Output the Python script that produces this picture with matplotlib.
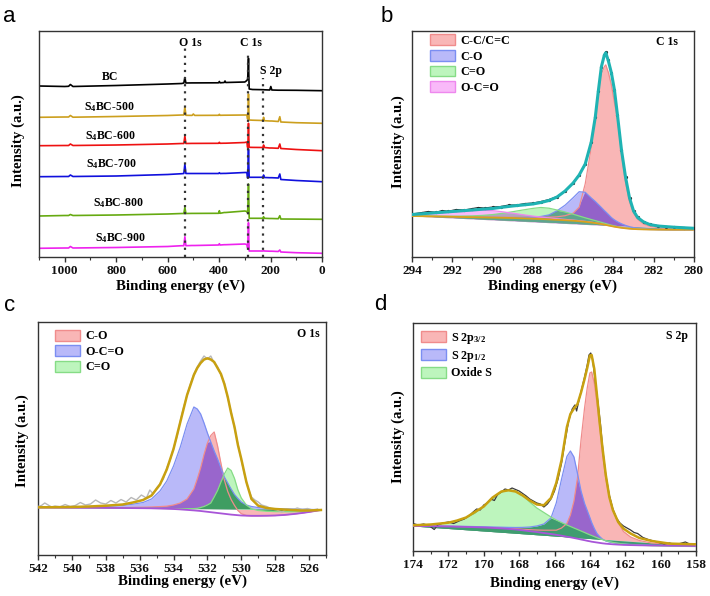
import numpy as np
import matplotlib
matplotlib.use("Agg")
import matplotlib.pyplot as plt
from matplotlib.patches import Patch
from matplotlib.ticker import MultipleLocator

# ---------------- data: panel a (survey) ----------------
survey_ev = [1100, 1000, 985, 978, 968, 800, 600, 545, 537, 533, 529, 505, 500, 495, 402, 399, 396,
             380, 377, 374, 300, 292, 289, 287, 285.8, 284.5, 283, 270, 230, 227, 224, 203, 199, 195,
             170, 164, 160, 100, 0]
bc = [171, 170.5, 170.7, 172.5, 170.5, 171.5, 173, 173.5, 174, 179.5, 174, 174.1, 174.1, 174.1, 174.2,
      175.5, 174.2, 174.5, 176, 174.5, 175, 176.5, 178, 187, 198.7, 182, 168, 167.5, 167.3, 167.3,
      167.2, 167, 170.5, 167, 166.8, 166.8, 166.8, 166.7, 166.3]
s4bc_500 = [139.7, 140, 140, 141.5, 139.8, 140.5, 141.5, 142, 142, 150.3, 141.7, 141.6, 143, 141.6, 141.7,
            142.7, 141.7, 141.8, 141.8, 141.8, 142, 142, 138, 147, 163, 147, 137, 136.8, 136.5, 139.7,
            136.3, 136, 136, 136, 135.5, 140.3, 135, 134.3, 133.7]
s4bc_600 = [111.3, 111.5, 111.5, 113, 111.5, 112, 113, 113.5, 113.5, 121, 113.5, 113.6, 113.6, 113.6, 113.7,
            114.7, 113.7, 113.8, 113.8, 113.8, 114.5, 115, 109.5, 120, 133.7, 119, 109.7, 109.6, 109.5, 112,
            109.5, 109, 109, 109, 108.7, 113, 108.5, 107.5, 106.3]
s4bc_700 = [80.3, 80.5, 80.5, 82, 80.5, 81, 82.5, 83.3, 83.5, 93, 83.5, 83.5, 83.5, 83.5, 83.5,
            84.3, 83.5, 83.6, 83.6, 83.6, 84.5, 84.5, 79, 95, 107.7, 92, 79.7, 79.7, 79.7, 82,
            79.5, 79.3, 79.3, 79.3, 79, 83, 77.5, 76.5, 75.3]
s4bc_800 = [41, 41.5, 41.5, 42.5, 41.5, 42, 43, 43.5, 43.5, 49.7, 43.5, 43.6, 43.6, 43.6, 43.7,
            46.3, 43.7, 44.5, 44.5, 44.5, 46, 45.5, 44, 60, 73, 57, 38.7, 38.7, 38.7, 40.3,
            38.7, 38.5, 38.5, 38.5, 38.3, 41.3, 38, 37.9, 37.7]
s4bc_900 = [8.7, 9, 9, 10.5, 9, 9.5, 10.5, 11.3, 11.3, 20.3, 11.3, 11.5, 11.5, 11.5, 12,
            13.3, 12, 12.3, 12.3, 12.3, 13, 12.5, 9, 22, 34.3, 17, 6, 6, 6, 6.3,
            6, 5.8, 5.8, 5.8, 5.5, 7, 5, 4.3, 3.7]
survey_names = ["BC", "S$_{4}$BC-500", "S$_{4}$BC-600", "S$_{4}$BC-700", "S$_{4}$BC-800", "S$_{4}$BC-900"]
survey_series = [bc, s4bc_500, s4bc_600, s4bc_700, s4bc_800, s4bc_900]
marker_names = ["O 1s", "C 1s", "S 2p"]
marker_ev = [533, 285.8, 227.5]
marker_top = [208.7, 205, 178.7]

# ---------------- data: panel b (C 1s) ----------------
c1s_ev = [294, 293, 292, 291, 290.5, 290, 289.5, 289, 288.5, 288, 287.6, 287.2, 286.8, 286.4, 286.0,
          285.7, 285.4, 285.1, 284.9, 284.75, 284.6, 284.45, 284.38, 284.25, 284.1, 283.95, 283.8,
          283.6, 283.4, 283.2, 283.0, 282.8, 282.5, 282.2, 281.8, 281, 280]
c1s_bg = [41, 40.6, 40.2, 39.8, 39.6, 39.4, 39.2, 39.0, 38.7, 38.3, 38.0, 37.6, 37.2, 36.8, 36.3,
          35.8, 35.2, 34.5, 34.0, 33.5, 33.0, 32.4, 32.1, 31.5, 30.9, 30.3, 29.8,
          29.2, 28.7, 28.3, 28.0, 27.8, 27.6, 27.5, 27.4, 27.3, 27.3]
c1s_env = [42.5, 44, 45.5, 47, 47.8, 48.5, 49.8, 51, 52, 53, 54.5, 56.5, 60, 66, 74,
           82, 93, 115, 140, 166, 190, 202, 204.3, 196, 184, 167, 142,
           107, 80, 59, 46, 39.5, 35, 32.5, 31, 29.8, 28.7]
c1s_cc = [0.2, 0.2, 0.3, 0.3, 0.4, 0.5, 0.6, 0.8, 1.0, 1.3, 1.7, 2.2, 3.0, 4.5, 7.5,
          14, 38, 75, 103, 128, 150, 158, 160, 153, 141, 124, 109,
          74, 46, 27, 16, 10, 5.5, 3.3, 2.0, 0.9, 0.4]
c1s_co = [0, 0, 0, 0, 0.1, 0.2, 0.3, 0.5, 0.9, 1.5, 2.5, 4.5, 9, 15, 23,
          29.5, 29.5, 24.5, 21.5, 19, 16.5, 14, 13, 11, 8.5, 6.8, 5.4,
          4, 2.9, 2, 1.4, 1, 0.5, 0.3, 0.1, 0, 0]
c1s_c_o = [0.1, 0.3, 0.6, 1.3, 2, 3, 4.5, 6.3, 8.3, 10.3, 11.5, 11.2, 9.8, 8.2, 6.5,
           5.2, 4.0, 3.0, 2.4, 2.0, 1.7, 1.4, 1.3, 1.1, 0.9, 0.8, 0.6,
           0.5, 0.4, 0.3, 0.2, 0.2, 0.1, 0, 0, 0, 0]
c1s_oco = [1.0, 2.5, 4.5, 6.3, 7.2, 7.0, 6.0, 4.8, 3.6, 2.6, 2.0, 1.5, 1.1, 0.8, 0.6,
           0.5, 0.4, 0.3, 0.2, 0.2, 0.1, 0.1, 0.1, 0.1, 0, 0, 0,
           0, 0, 0, 0, 0, 0, 0, 0, 0, 0]
c1s_raw_ev = [294, 293.5, 293.2, 292.8, 292.5, 292.2, 291.8, 291.4, 291.0, 290.7, 290.4, 290.0, 289.6,
              289.2, 288.8, 288.4, 288.0, 287.6, 287.2, 286.8, 286.4, 286.0, 285.7, 285.4, 285.1,
              284.9, 284.75, 284.6, 284.45, 284.38, 284.25, 284.1, 283.95, 283.8, 283.6, 283.4,
              283.2, 283.0, 282.8, 282.5, 282.2, 281.8, 281.4, 281.0, 280.5, 280.0]
c1s_raw = [43, 44.5, 45.5, 44.8, 46.5, 45.8, 47.5, 47, 48.5, 49.5, 49, 50, 50.5,
           52, 52, 53.5, 54, 55.5, 57.5, 60.5, 66, 74.5, 82.5, 93, 115,
           140.5, 166, 190, 202.5, 205.5, 197, 184, 167, 142, 107, 80.5,
           59, 46.5, 40, 35, 33, 31.5, 30.5, 30, 29.5, 29]
c1s_labels = ["C-C/C=C", "C-O", "C=O", "O-C=O"]

# ---------------- data: panel c (O 1s) ----------------
o1s_ev = [542, 541, 540, 539, 538, 537, 536.4, 535.8, 535.3, 534.8, 534.4, 534.0, 533.6, 533.2, 532.8,
          532.6, 532.4, 532.2, 532.0, 531.8, 531.6, 531.4, 531.2, 531.0, 530.8, 530.6, 530.4, 530.2,
          530.0, 529.7, 529.4, 529.0, 528.5, 528.0, 527.5, 527.0, 526.5, 526.0, 525.3]
o1s_bg = [47.5, 47.4, 47.3, 47.2, 47.1, 47.0, 46.9, 46.8, 46.7, 46.5, 46.3, 46.0, 45.6, 45.1, 44.6,
          44.3, 44.0, 43.6, 43.2, 42.8, 42.4, 42.0, 41.6, 41.2, 40.8, 40.4, 40.1, 39.8,
          39.5, 39.3, 39.2, 39.2, 39.3, 39.5, 40.0, 40.8, 41.8, 43.0, 45.0]
o1s_env = [47.7, 47.8, 48.0, 48.5, 49.3, 50.5, 52.5, 55, 59.5, 70.5, 85.5, 106, 133, 160, 180,
           187, 192, 195.5, 196.7, 195.5, 193, 187, 181, 171, 158, 142, 128, 110,
           96, 73, 56, 49.3, 47, 46, 45.5, 45, 44.5, 44.5, 45]
o1s_co = [47.5, 47.4, 47.3, 47.3, 47.3, 47.4, 47.6, 47.8, 48.0, 48.4, 48.8, 50, 52, 56, 66,
          76, 87, 100.5, 112, 119.5, 123, 109, 91.5, 75, 63.5, 55.5, 49.5, 44.5,
          41.3, 39.5, 39.2, 39.2, 39.3, 39.5, 40.0, 40.8, 41.8, 43.0, 45.0]
o1s_oco = [47.6, 47.7, 47.8, 48.0, 48.5, 49.5, 50.8, 52.5, 56, 64, 74, 89, 108, 131, 148,
           146, 141, 132, 122, 113, 104, 96, 87, 78, 72, 66, 60.5, 56.5,
           53, 50, 48.5, 47.5, 46.7, 46.3, 46, 46, 45.8, 45.6, 45.3]
o1s_c_o = [47.5, 47.4, 47.3, 47.2, 47.1, 47.0, 46.9, 46.8, 46.7, 46.6, 46.5, 46.4, 46.3, 46.3, 46.4,
           46.6, 47.5, 48.5, 50, 52, 58, 64.5, 73, 81, 87, 84.5, 76.5, 65,
           57, 50, 46.3, 44.5, 43.8, 43.4, 43.3, 43.3, 43.4, 44, 45]
o1s_raw_ev = [542, 541.8, 541.6, 541.4, 541.2, 541.0, 540.7, 540.4, 540.1, 539.8, 539.5, 539.2, 538.9,
              538.6, 538.3, 538.0, 537.7, 537.4, 537.1, 536.8, 536.5, 536.2, 535.9, 535.6, 535.4,
              535.2, 535.0, 534.8, 534.6, 534.4, 534.2, 534.0, 533.8, 533.6, 533.4, 533.2, 533.0,
              532.8, 532.6, 532.4, 532.2, 532.0, 531.8, 531.6, 531.4, 531.2, 531.0, 530.8, 530.6,
              530.4, 530.2, 530.0, 529.8, 529.6, 529.4, 529.2, 529.0, 528.8, 528.5, 528.2, 527.9,
              527.6, 527.3, 527.0, 526.7, 526.4, 526.1, 525.8, 525.5]
o1s_raw = [48.5, 49.5, 52, 50, 48, 49, 48.2, 50.5, 48.5, 49.5, 52.5, 50, 51,
           55, 52, 51, 54.5, 52, 55.5, 53, 57.5, 55, 60, 57, 65,
           61, 67, 71, 76, 87, 95, 107, 118, 134, 148, 160, 171,
           181, 188, 194, 199, 196, 199, 192, 188, 180, 172, 157, 143,
           127, 111, 95, 80, 67, 58, 55, 53, 50, 48.5, 46, 45,
           43, 46, 45, 47, 45.5, 46.5, 45, 46]
o1s_labels = ["C-O", "O-C=O", "C=O"]

# ---------------- data: panel d (S 2p) ----------------
s2p_ev = [174, 173, 172, 171.5, 171, 170.5, 170, 169.5, 169, 168.6, 168.2, 167.8, 167.4, 167, 166.6,
          166.2, 165.9, 165.6, 165.3, 165.1, 164.9, 164.7, 164.5, 164.3, 164.15, 164.0, 163.9, 163.75,
          163.6, 163.45, 163.3, 163.1, 162.9, 162.7, 162.4, 162.1, 161.7, 161.2, 160.5, 159.5, 158.5, 158]
s2p_bg = [25, 24.8, 24.5, 24.3, 24.1, 23.8, 23.5, 23.1, 22.6, 22.1, 21.5, 20.7, 19.8, 19, 18,
          17, 16.2, 15.3, 14.3, 13.7, 13, 12.3, 11.5, 10.8, 10.2, 9.7, 9.3, 8.9,
          8.5, 8.1, 7.7, 7.3, 7.0, 6.7, 6.4, 6.1, 5.9, 5.7, 5.5, 5.3, 5.1, 5.0]
s2p_env = [25.7, 26.5, 28.3, 30.5, 33.5, 39, 44.5, 53.5, 59.5, 60.7, 59.5, 55.5, 50.5, 46.5, 45.8,
           53, 68, 91, 124, 137, 142.5, 147, 158.5, 172, 183, 195.5, 196, 182,
           156, 129, 105, 76, 54, 41, 29, 22.4, 17.5, 13, 10, 7.4, 6.9, 6.7]
s2p_32 = [25.1, 24.9, 24.7, 24.5, 24.3, 24.0, 23.8, 23.5, 23.1, 22.7, 22.3, 21.8, 21.3, 21, 20.8,
          20.8, 20.8, 23, 27.5, 36, 50, 73, 111, 143, 163, 178, 179, 168,
          148, 126, 99, 72, 54, 41, 28.5, 19.5, 14, 10.5, 8, 6.7, 5.8, 5.5]
s2p_12 = [25.1, 25, 24.8, 24.7, 24.6, 24.4, 24.2, 24, 23.8, 23.6, 23.5, 23.6, 24, 25, 27,
          33, 48, 72, 94.5, 100, 94, 77.5, 60, 47.5, 40.5, 33.5, 28.5, 22.5,
          17.5, 14.5, 12, 10, 9, 8.3, 7.6, 7.1, 6.6, 6.2, 5.8, 5.4, 5.1, 5.0]
s2p_ox = [25.5, 26.3, 28.2, 30.2, 33.2, 37.5, 44.5, 52, 58.5, 61.4, 60, 55.5, 49, 43, 38.5,
          34, 31, 28.5, 26, 24.5, 23, 21.5, 20, 18.5, 17.3, 16.2, 15.5, 14.4,
          13.3, 12.3, 11.4, 10.3, 9.4, 8.6, 7.7, 7, 6.3, 5.8, 5.3, 4.9, 4.6, 4.5]
s2p_raw_ev = [174, 173.7, 173.4, 173.1, 172.8, 172.6, 172.3, 172.0, 171.7, 171.4, 171.1, 170.8, 170.6,
              170.4, 170.2, 170.0, 169.8, 169.6, 169.4, 169.2, 169.0, 168.8, 168.6, 168.4, 168.2,
              168.0, 167.8, 167.6, 167.4, 167.2, 167.0, 166.8, 166.6, 166.4, 166.2, 166.0, 165.8,
              165.6, 165.4, 165.2, 165.0, 164.85, 164.75, 164.6, 164.45, 164.3, 164.15, 164.05,
              163.95, 163.85, 163.7, 163.55, 163.4, 163.25, 163.1, 162.9, 162.7, 162.5, 162.3,
              162.1, 161.9, 161.7, 161.5, 161.3, 161.0, 160.7, 160.4, 160.1, 159.8, 159.5, 159.2,
              158.9, 158.6, 158.3, 158.0]
s2p_raw = [27.5, 26, 27, 25.5, 21.5, 26, 28, 29, 27.5, 30, 32, 35.5, 39,
           42, 41, 46, 48, 52, 50.5, 57, 59, 62, 61, 63, 61.5,
           60, 57.5, 55, 52, 50, 48, 47, 44, 47, 52, 60, 72,
           88, 110, 130, 142, 146, 140, 152, 163, 174, 186, 196,
           198, 192, 170, 150, 127, 98, 76, 56, 42, 33, 28,
           25, 23, 21, 18.5, 17.5, 13.5, 11.5, 10, 8.5, 7, 8, 6.5,
           7.5, 9, 6.5, 7]
s2p_labels = ["S 2p$_{3/2}$", "S 2p$_{1/2}$", "Oxide S"]

# ---------------- style ----------------
plt.rcParams.update({
    "font.family": ["Liberation Serif", "DejaVu Serif"],
    "font.weight": "bold",
    "mathtext.fontset": "custom",
    "mathtext.rm": "Liberation Serif:bold",
    "mathtext.it": "Liberation Serif:bold:italic",
    "mathtext.bf": "Liberation Serif:bold",
    "axes.linewidth": 1.0,
})

W, H = 710, 596
fig = plt.figure(figsize=(W / 100, H / 100), dpi=100)


def add_ax(l, t, r, b):
    return fig.add_axes([l / W, 1 - b / H, (r - l) / W, (b - t) / H])


def style(ax, xlim, ylim, major, minor):
    ax.set_xlim(*xlim)
    ax.set_ylim(*ylim)
    ax.xaxis.set_major_locator(MultipleLocator(major))
    ax.xaxis.set_minor_locator(MultipleLocator(minor))
    ax.tick_params(axis="x", which="major", direction="out", length=3.5, width=1,
                   labelsize=9.5, pad=2, color="#333333", labelcolor="#111111")
    ax.tick_params(axis="x", which="minor", direction="out", length=2.0, width=0.8, color="#333333")
    ax.tick_params(axis="y", which="both", left=False, labelleft=False)
    for s in ax.spines.values():
        s.set_linewidth(1.0)
        s.set_color("#333333")


RED_F, BLUE_F, GREEN_F, PINK_F = "#f9b6b6", "#b9b9f9", "#bdf5bd", "#f9b9f9"
RED_E, BLUE_E, GREEN_E, PINK_E = "#f08c8c", "#7b8ef2", "#86dc86", "#ee88ee"


def draw_components(ax, x, bg, comps, fcs, ecs, pairs):
    x = np.asarray(x, float)
    bg = np.asarray(bg, float)
    base = bg[0] + (bg[-1] - bg[0]) * (x - x[0]) / (x[-1] - x[0])
    comps = [np.asarray(c, float) for c in comps]
    for c, fc in zip(comps, fcs):
        ax.fill_between(x, base, c, color=fc, lw=0, zorder=1)
    for i, j, col in pairs:
        up = np.minimum(comps[i], comps[j])
        ax.fill_between(x, base, up, where=up >= base, interpolate=True, color=col, lw=0, zorder=2)
        lo = np.maximum(comps[i], comps[j])
        ax.fill_between(x, base, lo, where=lo <= base, interpolate=True, color=col, lw=0, zorder=2)
    for c, ec in zip(comps, ecs):
        ax.plot(x, c, color=ec, lw=0.9, zorder=3)


def patch_legend(ax, labels, fcs, ecs, anchor):
    handles = [Patch(facecolor=f, edgecolor=e, lw=1.0) for f, e in zip(fcs, ecs)]
    ax.legend(handles, labels, loc="upper left", bbox_to_anchor=anchor, frameon=False,
              fontsize=8.7, handlelength=2.1, handleheight=1.0, labelspacing=0.25,
              borderaxespad=0, borderpad=0, handletextpad=0.4)


# ---------------- panel a ----------------
axa = add_ax(39, 31, 322, 257)
style(axa, (1100, 0), (0, 226), 200, 100)
survey_colors = ["#000000", "#cc9f1e", "#ee1111", "#1010dd", "#66aa11", "#ee22ee"]
for ys, col in zip(survey_series, survey_colors):
    axa.plot(survey_ev, ys, color=col, lw=1.2)
axa.vlines(marker_ev, 0, marker_top, colors="#333333", linestyles=(0, (1, 2.2)), lw=1.6)
label_pos = [(824, 180), (828, 150), (823, 121), (821, 93), (790, 54), (783, 19)]
for name, (lx, ly) in zip(survey_names, label_pos):
    axa.text(lx, ly, name, ha="center", va="center", fontsize=8.5)
marker_label_pos = [(510, 214.5), (277, 214.5), (198, 185.7)]
for name, (lx, ly) in zip(marker_names, marker_label_pos):
    axa.text(lx, ly, name, ha="center", va="center", fontsize=8.5)

# ---------------- panel b ----------------
axb = add_ax(412, 31, 694, 257)
style(axb, (294, 280), (0, 226), 2, 1)
bgb = np.asarray(c1s_bg, float)
comps_b = [bgb + np.asarray(c1s_cc), bgb + np.asarray(c1s_co), bgb + np.asarray(c1s_c_o),
           bgb + np.asarray(c1s_oco)]
draw_components(axb, c1s_ev, c1s_bg, comps_b,
                [RED_F, BLUE_F, GREEN_F, PINK_F], [RED_E, BLUE_E, GREEN_E, PINK_E],
                [(0, 1, "#9362c9"), (3, 0, "#c79bc9"), (3, 1, "#b39bd9"), (3, 2, "#b0a8c0"),
                 (2, 0, "#6fae86"), (2, 1, "#5ea58e")])
axb.plot(c1s_raw_ev, c1s_raw, color="#222222", lw=0.8, marker="o", ms=1.3, zorder=4)
axb.plot(c1s_ev, c1s_bg, color="#d9a21b", lw=1.3, zorder=5)
axb.plot(c1s_ev, c1s_env, color="#1fb3b3", lw=2.2, zorder=6)
patch_legend(axb, c1s_labels, [RED_F, BLUE_F, GREEN_F, PINK_F], [RED_E, BLUE_E, GREEN_E, PINK_E],
             (0.064, 0.985))
axb.text(0.903, 0.951, "C 1s", transform=axb.transAxes, ha="center", va="center", fontsize=8.5)

# ---------------- panel c ----------------
axc = add_ax(38, 322, 326, 555)
style(axc, (542, 525), (0, 233), 2, 1)
draw_components(axc, o1s_ev, o1s_bg, [o1s_co, o1s_oco, o1s_c_o],
                [RED_F, BLUE_F, GREEN_F], [RED_E, BLUE_E, GREEN_E],
                [(0, 1, "#9966cc"), (2, 0, "#3f9d62"), (2, 1, "#3f9d62")])
axc.plot(o1s_raw_ev, o1s_raw, color="#b8b8b8", lw=1.0, zorder=4)
axc.plot(o1s_ev, o1s_bg, color="#a855d8", lw=1.3, zorder=5)
axc.plot(o1s_ev, o1s_env, color="#c8a010", lw=1.8, zorder=6)
patch_legend(axc, o1s_labels, [RED_F, BLUE_F, GREEN_F], [RED_E, BLUE_E, GREEN_E], (0.059, 0.967))
axc.text(0.9375, 0.95, "O 1s", transform=axc.transAxes, ha="center", va="center", fontsize=8.5)

# ---------------- panel d ----------------
axd = add_ax(413, 323, 696, 551)
style(axd, (174, 158), (0, 228), 2, 1)
draw_components(axd, s2p_ev, s2p_bg, [s2p_32, s2p_12, s2p_ox],
                [RED_F, BLUE_F, GREEN_F], [RED_E, BLUE_E, GREEN_E],
                [(0, 1, "#9966cc"), (2, 0, "#3f9d70"), (2, 1, "#3f9d70")])
axd.plot(s2p_raw_ev, s2p_raw, color="#3a3a3a", lw=0.9, zorder=4)
axd.plot(s2p_ev, s2p_bg, color="#a855d8", lw=1.3, zorder=5)
axd.plot(s2p_ev, s2p_env, color="#c8a010", lw=1.8, zorder=6)
patch_legend(axd, s2p_labels, [RED_F, BLUE_F, GREEN_F], [RED_E, BLUE_E, GREEN_E], (0.028, 0.966))
axd.text(0.932, 0.941, "S 2p", transform=axd.transAxes, ha="center", va="center", fontsize=8.5)

# ---------------- labels ----------------
for (cx, cy) in [(180.5, 286), (553, 286), (182, 581), (554.5, 583)]:
    fig.text(cx / W, 1 - cy / H, "Binding energy (eV)", ha="center", va="center", fontsize=10.8)
for (cx, cy) in [(18, 141), (398, 142), (22, 441), (398, 437)]:
    fig.text(cx / W, 1 - cy / H, "Intensity (a.u.)", ha="center", va="center", rotation=90,
             fontsize=10.7)
for letter, (lx, ly) in zip("abcd", [(3, 22), (381, 22), (4, 311), (374, 310)]):
    fig.text(lx / W, 1 - ly / H, letter, ha="left", va="baseline", fontsize=16,
             family=["Liberation Sans", "DejaVu Sans"], weight="normal")

fig.savefig("out.png", dpi=100)
